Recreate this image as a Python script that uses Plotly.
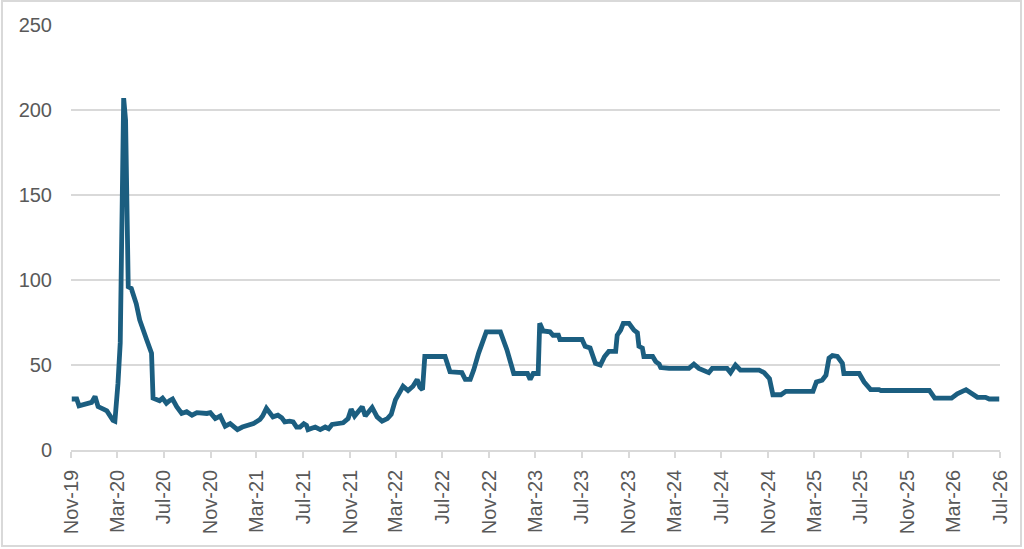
import plotly.graph_objects as go

dates = [
    "2019-11-03", "2019-11-16", "2019-11-22", "2019-12-12", "2019-12-25", "2020-01-03",
    "2020-01-11", "2020-01-25", "2020-02-03", "2020-02-19", "2020-02-24", "2020-03-03",
    "2020-03-09", "2020-03-18", "2020-03-23", "2020-03-30", "2020-04-07", "2020-04-20",
    "2020-04-29", "2020-05-17", "2020-05-30", "2020-06-03", "2020-06-12", "2020-06-20",
    "2020-06-28", "2020-07-08", "2020-07-16", "2020-07-24", "2020-08-04", "2020-08-17",
    "2020-08-30", "2020-09-13", "2020-09-26", "2020-10-09", "2020-10-22", "2020-10-31",
    "2020-11-13", "2020-11-26", "2020-12-09", "2020-12-22", "2020-12-30", "2021-01-10",
    "2021-01-23", "2021-02-08", "2021-02-21", "2021-03-10", "2021-03-17", "2021-03-27",
    "2021-04-05", "2021-04-13", "2021-04-26", "2021-05-06", "2021-05-14", "2021-05-27",
    "2021-06-05", "2021-06-14", "2021-06-23", "2021-07-03", "2021-07-10", "2021-07-14",
    "2021-08-02", "2021-08-15", "2021-08-28", "2021-09-06", "2021-09-15", "2021-09-28",
    "2021-10-14", "2021-10-27", "2021-11-04", "2021-11-13", "2021-12-03", "2021-12-11",
    "2021-12-29", "2022-01-11", "2022-01-24", "2022-02-07", "2022-02-17", "2022-02-28",
    "2022-03-07", "2022-03-20", "2022-04-02", "2022-04-15", "2022-04-26", "2022-05-03",
    "2022-05-10", "2022-05-16", "2022-07-08", "2022-07-21", "2022-08-21", "2022-08-30",
    "2022-09-12", "2022-09-21", "2022-10-04", "2022-10-24", "2022-11-30", "2022-12-17",
    "2023-01-04", "2023-02-09", "2023-02-16", "2023-02-24", "2023-03-09", "2023-03-13",
    "2023-03-22", "2023-04-09", "2023-04-17", "2023-05-01", "2023-05-05", "2023-07-02",
    "2023-07-10", "2023-07-23", "2023-08-06", "2023-08-19", "2023-08-30", "2023-09-10",
    "2023-09-28", "2023-10-02", "2023-10-11", "2023-10-18", "2023-11-02", "2023-11-15",
    "2023-11-24", "2023-11-28", "2023-12-07", "2023-12-11", "2024-01-03", "2024-01-11",
    "2024-01-20", "2024-01-24", "2024-02-15", "2024-04-07", "2024-04-20", "2024-05-03",
    "2024-05-29", "2024-06-07", "2024-07-16", "2024-07-25", "2024-08-07", "2024-08-20",
    "2024-10-08", "2024-10-21", "2024-11-04", "2024-11-13", "2024-12-04", "2024-12-17",
    "2025-02-26", "2025-03-07", "2025-03-22", "2025-04-01", "2025-04-09", "2025-04-18",
    "2025-05-01", "2025-05-14", "2025-05-18", "2025-06-27", "2025-07-10", "2025-07-27",
    "2025-08-18", "2025-08-23", "2025-12-28", "2026-01-11", "2026-02-24", "2026-03-11",
    "2026-04-03", "2026-04-16", "2026-05-03", "2026-05-24", "2026-06-03", "2026-06-29",
]

values = [
    30, 30, 26, 27.5, 28, 31.5,
    25.5, 24, 23, 17.5, 17, 39,
    63, 207, 194, 96, 95, 86,
    76.5, 65, 57, 30.5, 29.5, 29,
    30.5, 27.5, 29, 30, 25.5, 21.5,
    22.5, 20.5, 22, 21.5, 21.5, 22,
    18.5, 20, 14, 15.5, 14, 12,
    13.5, 15, 15.5, 18, 20, 24.5,
    21.5, 19.5, 20.5, 19, 16.5, 17,
    16.5, 13.5, 13.5, 15.5, 14.5, 12,
    13.5, 12, 13.5, 12.5, 15, 15.5,
    16, 18.5, 24, 20, 25.5, 20,
    25, 19.5, 17, 18.5, 21, 29.5,
    32.5, 37.5, 35, 37.5, 41.5, 37,
    35.5, 55, 55, 46, 45.5, 41.5,
    41.5, 47, 57, 69.5, 69.5, 59,
    45, 45, 41.5, 45, 45, 74.5,
    70, 69.5, 67.5, 67.5, 65, 65,
    61, 60, 51, 50, 55, 58,
    58, 67.5, 70.5, 74.5, 74.5, 70.5,
    69, 61, 60, 55, 55, 52,
    50.5, 48.5, 48, 48, 50.5, 48,
    45.5, 48, 48, 45.5, 50, 47,
    47, 45.5, 42, 32.5, 32.5, 34.5,
    34.5, 40, 41, 44, 54, 55.5,
    55, 51, 45, 45, 40, 35.5,
    35.5, 35, 35, 30.5, 30.5, 33,
    35.5, 33.5, 31, 31, 30, 30,
]

y_ticks = [0, 50, 100, 150, 200, 250]

LINE = "#1b5e80"
GRID = "#d9d9d9"
TXT = "#595959"

fig = go.Figure()
fig.add_trace(go.Scatter(
    x=dates, y=values, mode="lines",
    line=dict(color=LINE, width=4.8),
    showlegend=False, hoverinfo="skip",
))

fig.update_layout(
    width=1024, height=549,
    margin=dict(l=71, r=24, t=25, b=99, autoexpand=False),
    paper_bgcolor="white", plot_bgcolor="white",
    font=dict(family="Liberation Sans, Arial, sans-serif", size=20, color=TXT),
    showlegend=False,
)

fig.update_xaxes(
    type="date", automargin=False,
    range=["2019-11-01", "2026-07-01"],
    tick0="2019-11-01", dtick="M4", tickformat="%b-%y",
    tickangle=-90,
    ticks="outside", ticklen=6, tickwidth=1.5, tickcolor=GRID,
    showline=True, linecolor=GRID, linewidth=1.5,
    showgrid=False, zeroline=False,
    tickfont=dict(size=20, color=TXT),
    ticklabelstandoff=4,
)

fig.update_yaxes(
    automargin=False,
    range=[0, 250], tickvals=y_ticks,
    showgrid=True, gridcolor=GRID, gridwidth=1.5,
    zeroline=False, showline=False,
    tickfont=dict(size=20, color=TXT),
    ticklabelstandoff=18,
)

fig.add_shape(
    type="rect", xref="paper", yref="paper",
    x0=-0.0743, x1=1.0226, y0=-0.2259, y1=1.0565,
    line=dict(color=GRID, width=2), fillcolor="rgba(0,0,0,0)", layer="below",
)

fig.write_html(
    "out.html",
    config={"displayModeBar": False},
    post_script="document.body.style.margin='0';document.body.style.overflow='hidden';",
)
